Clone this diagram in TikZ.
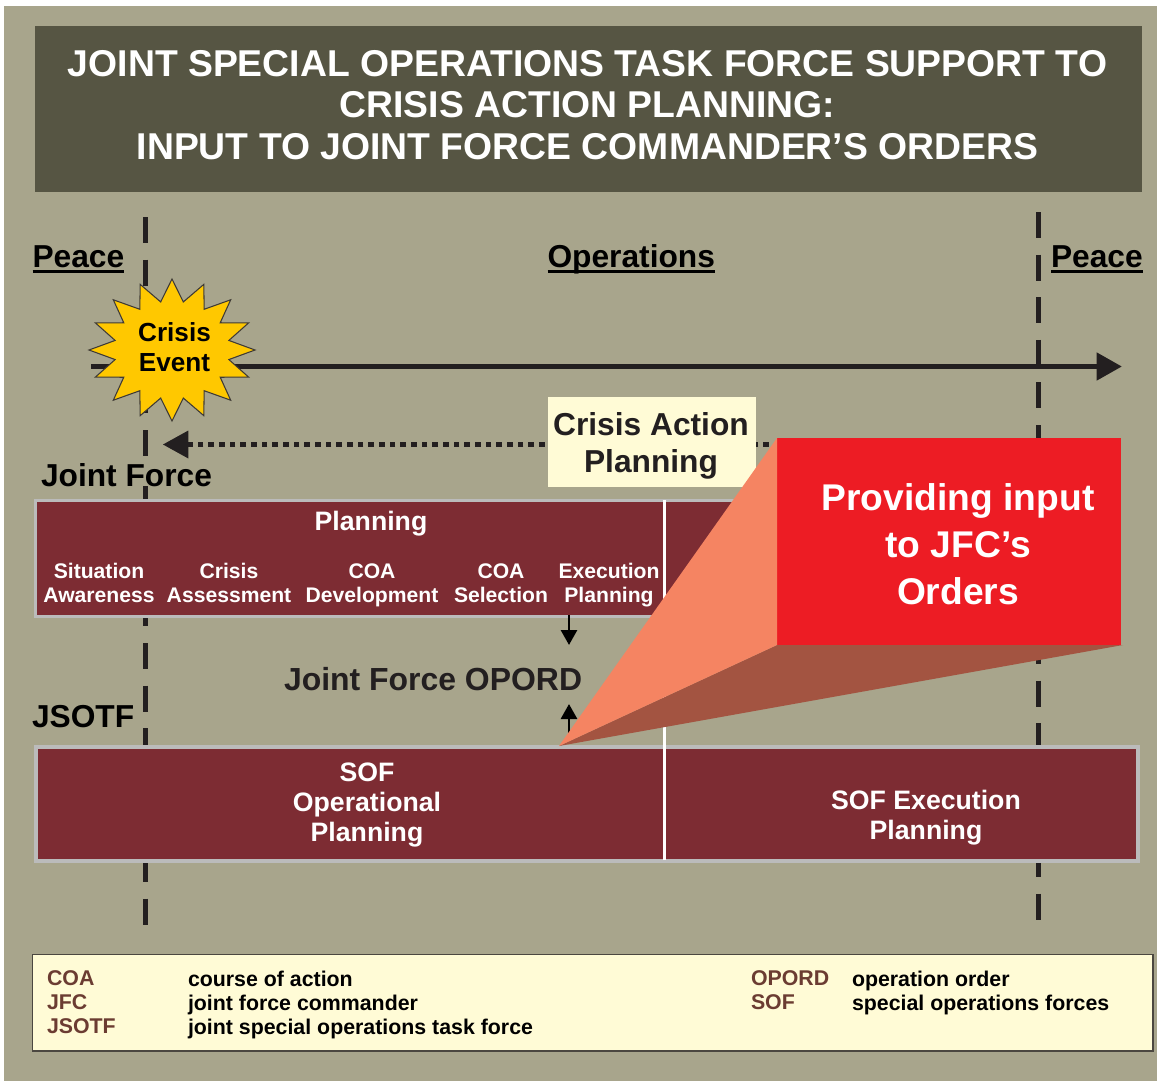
\documentclass[tikz,border=0pt]{standalone}
\usepackage{fontspec}
\setmainfont{Liberation Sans}
\usetikzlibrary{arrows.meta}
\definecolor{tanbg}{HTML}{A8A58C}
\definecolor{titlebg}{HTML}{565543}
\definecolor{maroon}{HTML}{7D2C33}
\definecolor{framegray}{HTML}{BBBBBB}
\definecolor{cream}{HTML}{FFFBD6}
\definecolor{inkdark}{HTML}{231F20}
\definecolor{crisisred}{HTML}{ED1C24}
\definecolor{conelight}{HTML}{F58462}
\definecolor{conedark}{HTML}{A35441}
\definecolor{burst}{HTML}{FFC800}
\definecolor{abbr}{HTML}{6B3C32}
\newcommand{\fpx}[2]{\fontsize{#1pt}{#2pt}\selectfont\bfseries}
\tikzset{
  x=0.75pt,y=-0.75pt,
  txt/.style={inner sep=0pt,outer sep=0pt,align=center},
  head/.style={txt,anchor=base west,font=\fpx{23.8}{28}},
  headfill/.style={head,fill=tanbg},
  small/.style={txt,white,font=\fpx{15.85}{18}},
  mid/.style={txt,white,font=\fpx{20}{22.5}},
  legend/.style={inner sep=0pt,outer sep=0pt,anchor=north west,align=left,font=\fpx{16}{18}},
  barbox/.style={draw=framegray,line width=2.5pt,fill=maroon},
  phase/.style={inkdark,line width=3.75pt,dash pattern=on 19.5pt off 12.45pt},
  ulin/.style={black,line width=1.9pt},
  tinyarrow/.style={black,line width=2.1pt,-{Triangle[length=11.25pt,width=12pt]}},
}
\begin{document}
\begin{tikzpicture}
\useasboundingbox (0,0) rectangle (1157,1081);
\fill[white] (0,0) rectangle (1157,1081);
\fill[tanbg] (4,6) rectangle (1157,1081);
% title
\node[fill=titlebg,minimum width=830.25pt,minimum height=124.5pt,inner sep=0pt] (titlebox) at (588.5,109) {};
\node[txt,white,font=\fpx{28}{31.2}] (title) at (587.5,105) {JOINT SPECIAL OPERATIONS TASK FORCE SUPPORT TO\\CRISIS ACTION PLANNING:\\INPUT TO JOINT FORCE COMMANDER’S ORDERS};
% phase lines
\coordinate (la) at (145,217); \coordinate (lb) at (145,925);
\coordinate (ra) at (1038,212); \coordinate (rb) at (1038,920);
\draw[phase] (la) -- (lb);
\draw[phase] (ra) -- (rb);
% headings
\node[head] (peaceL) at (32.5,267) {Peace};
\node[head] (ops) at (547.5,267) {Operations};
\node[head] (peaceR) at (1051,267) {Peace};
\draw[ulin] ([yshift=-3.2pt]peaceL.base west) -- ([yshift=-3.2pt]peaceL.base east);
\draw[ulin] ([yshift=-3.2pt]ops.base west) -- ([yshift=-3.2pt]ops.base east);
\draw[ulin] ([yshift=-3.2pt]peaceR.base west) -- ([yshift=-3.2pt]peaceR.base east);
% timeline
\coordinate (tla) at (91,366.5); \coordinate (tlb) at (1122,366.5);
\draw[inkdark,line width=4.2pt,-{Triangle[length=19pt,width=20pt]}] (tla) -- (tlb);
% burst
\filldraw[fill=burst,draw=inkdark!80!tanbg,line width=0.8pt] plot[samples at={0,1,...,31}] ({172+(mod(\x,2)==0?83:58)*cos(\x*11.25)},{350+(mod(\x,2)==0?71:49)*sin(\x*11.25)}) -- cycle;
\node[txt,black,font=\fpx{19.6}{22.5}] (crisis) at (174.5,347) {Crisis\\Event};
% dotted arrow
\coordinate (dotr) at (790,444.5); \coordinate (dotl) at (163,444.5);
\draw[inkdark,line width=4pt,dash pattern=on 4.2pt off 3.8pt,-{Triangle[length=19pt,width=21pt,line width=0pt]}] (dotr) -- (dotl);
\node[fill=cream,minimum width=156pt,minimum height=67.5pt,inner sep=0pt] (capbox) at (652,442) {};
\node[txt,inkdark,font=\fpx{23.8}{27.8}] (cap) at (651,445.5) {Crisis Action\\Planning};
% joint force
\node[headfill] (jf) at (41,486) {Joint Force};
\node[head] (jsotf) at (32,727) {JSOTF};
% bars
\node[barbox,minimum width=650pt,minimum height=86.8pt,inner sep=0pt] (jfbar) at (469,558.6) {};
\node[barbox,minimum width=826.5pt,minimum height=85.5pt,inner sep=0pt] (sofbar) at (587,804) {};
\coordinate (wa) at (664.5,500); \coordinate (wb) at (664.5,860);
\draw[white,line width=2.6pt] (wa) -- (wb);
\node[mid] (plan) at (371,524) {Planning};
\node[small] (s1) at (99,583) {Situation\\Awareness};
\node[small] (s2) at (229,583) {Crisis\\Assessment};
\node[small] (s3) at (372,585) {COA\\Development};
\node[small] (s4) at (501,583) {COA\\Selection};
\node[small] (s5) at (609,585) {Execution\\Planning};
\node[mid] (sof1) at (367,805) {SOF\\Operational\\Planning};
\node[mid] (sof2) at (926,818) {SOF Execution\\Planning};
% OPORD
\node[head,inkdark,font=\fpx{23.95}{28}] (opord) at (284,690) {Joint Force OPORD};
\coordinate (a1) at (569,615); \coordinate (a2) at (569,645);
\coordinate (a3) at (569,735); \coordinate (a4) at (569,704);
\draw[tinyarrow] (a1) -- (a2);
\draw[tinyarrow] (a3) -- (a4);
% callout
\coordinate (apex) at (559,746);
\node[fill=crisisred,minimum width=258pt,minimum height=155.25pt,inner sep=0pt,outer sep=0pt] (redbox) at (949,541.5) {};
\fill[conedark] (apex) -- (redbox.south west) -- ([xshift=1.5pt]redbox.south east) -- cycle;
\fill[conelight] (apex) -- (redbox.north west) -- (redbox.south west) -- cycle;
\node[txt,white,font=\fpx{27.9}{35.2}] (callout) at (958,544) {Providing input\\to JFC’s\\Orders};
% legend
\node[draw=inkdark!70!tanbg,fill=cream,line width=1pt,minimum width=840.5pt,minimum height=72.5pt,inner sep=0pt] (legendbox) at (592.5,1002.5) {};
\node[legend,abbr] (l1) at (47,971) {COA\\JFC\\JSOTF};
\node[legend,black] (l2) at (188,971) {course of action\\joint force commander\\joint special operations task force};
\node[legend,abbr] (l3) at (751,971) {OPORD\\SOF};
\node[legend,black] (l4) at (852,971) {operation order\\special operations forces};
\end{tikzpicture}
\end{document}
